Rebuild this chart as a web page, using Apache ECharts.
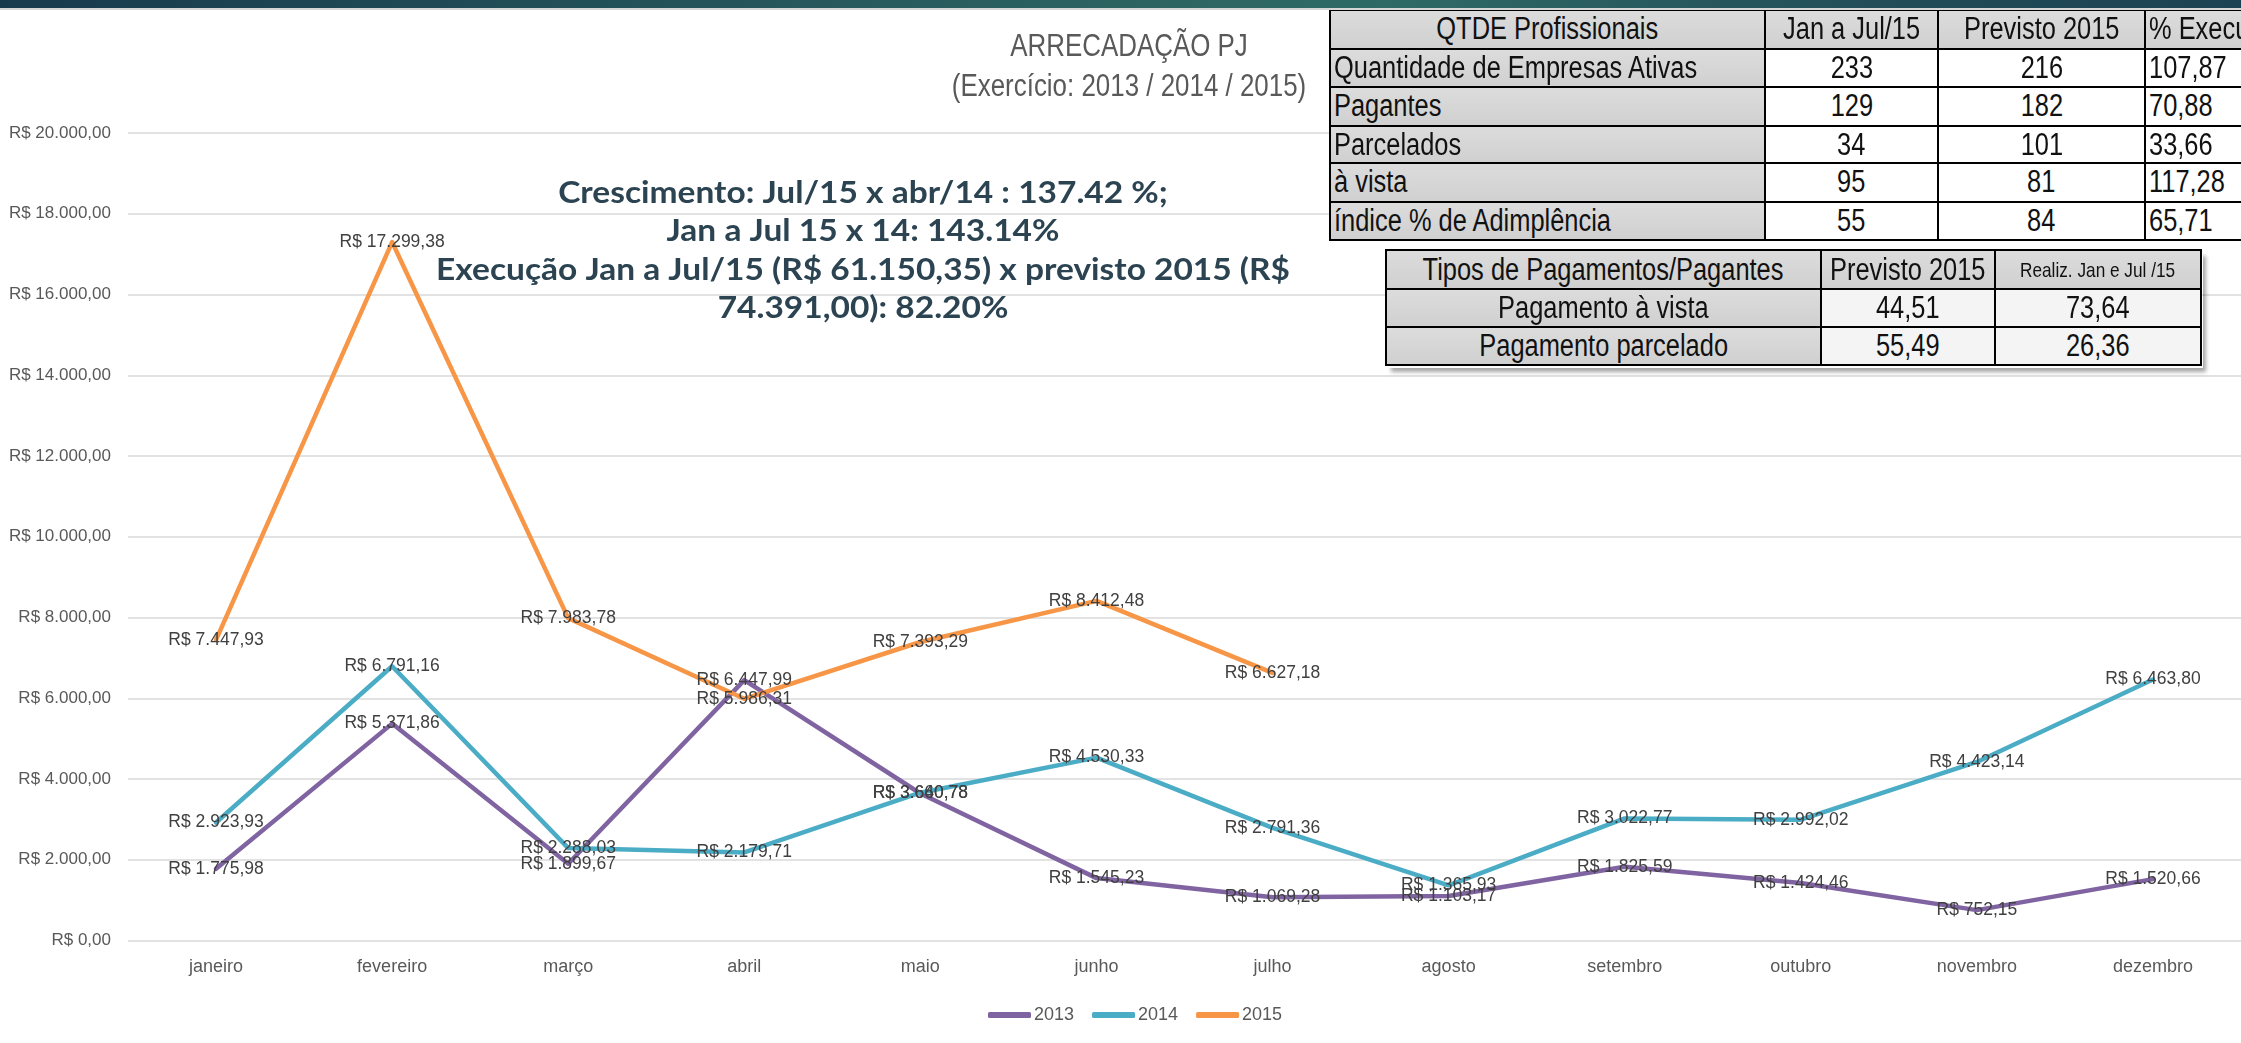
<!DOCTYPE html>
<html>
<head>
<meta charset="utf-8">
<script src="https://cdn.jsdelivr.net/npm/echarts@6/dist/echarts.min.js"></script>
<style>
  html, body { margin:0; padding:0; background:#fff; }
  #wrap { position:relative; width:2241px; height:1043px; overflow:hidden; background:#fff; }
  #chart { position:absolute; left:0; top:0; width:2241px; height:1043px; }
  .cell { position:absolute; box-sizing:border-box; border:2px solid #000; display:flex; align-items:center;
          justify-content:center; font-family:"Liberation Sans",Arial,sans-serif;
          color:#111; white-space:nowrap; overflow:hidden; z-index:5; }
  .cell span { display:inline-block; transform:scaleX(0.82); transform-origin:center center; }
  .cell.left { justify-content:flex-start; padding-left:3px; }
  .cell.left span { transform-origin:left center; }
  .gray { background:linear-gradient(#dcdcdc,#d0d0d0); }
  .white { background:#fff; }
  .light { background:#f4f4f4; }
</style>
</head>
<body>
<div id="wrap">
  <div id="chart"></div>
  <div style="position:absolute;left:0;top:0;width:2241px;height:8px;z-index:6;background:linear-gradient(90deg,#173a4d 0%,#24535a 30%,#2e6763 55%,#2f6a66 62%,#224c58 85%,#1b4252 100%);"></div>
  <div style="position:absolute;left:0;top:8px;width:2241px;height:2px;z-index:6;background:#d6d6d6;"></div>
</div>
<script>
// ---------- data ----------
const months = ['janeiro','fevereiro','março','abril','maio','junho','julho','agosto','setembro','outubro','novembro','dezembro'];
const v2013 = [1775.98, 5371.86, 1899.67, 6447.99, 3640.78, 1545.23, 1069.28, 1103.17, 1825.59, 1424.46, 752.15, 1520.66];
const v2014 = [2923.93, 6791.16, 2288.03, 2179.71, 3660.78, 4530.33, 2791.36, 1365.93, 3022.77, 2992.02, 4423.14, 6463.80];
const v2015 = [7447.93, 17299.38, 7983.78, 5986.31, 7393.29, 8412.48, 6627.18];
const seriesNames = ['2013','2014','2015'];

const titleLines = ['ARRECADAÇÃO PJ', '(Exercício: 2013 / 2014 / 2015)'];
const noteLines = [
  'Crescimento: Jul/15 x abr/14 : 137.42 %;',
  'Jan a Jul 15 x 14: 143.14%',
  'Execução Jan a Jul/15 (R$ 61.150,35) x previsto 2015 (R$',
  '74.391,00): 82.20%'
];

const t1Header = ['QTDE Profissionais', 'Jan a Jul/15', 'Previsto 2015', '% Execução'];
const t1Labels = ['Quantidade de Empresas Ativas', 'Pagantes', 'Parcelados', 'à vista', 'índice % de Adimplência'];
const t1JanJul = ['233', '129', '34', '95', '55'];
const t1Previsto = ['216', '182', '101', '81', '84'];
const t1Exec = ['107,87', '70,88', '33,66', '117,28', '65,71'];

const t2Header = ['Tipos de Pagamentos/Pagantes', 'Previsto 2015', 'Realiz. Jan e Jul /15'];
const t2Labels = ['Pagamento à vista', 'Pagamento parcelado'];
const t2Previsto = ['44,51', '55,49'];
const t2Realiz = ['73,64', '26,36'];

// ---------- helpers ----------
function brl(v) {
  let [i, d] = Math.abs(v).toFixed(2).split('.');
  i = i.replace(/\B(?=(\d{3})+(?!\d))/g, '.');
  return 'R$ ' + i + ',' + d;
}
const SANS = '"Liberation Sans",Arial,sans-serif';
const colors = ['#8064A2', '#4BACC6', '#F79646'];

// ---------- chart ----------
const chart = echarts.init(document.getElementById('chart'), null, { renderer: 'canvas' });
function mkSeries(name, data, color) {
  return {
    name, type: 'line', data, color,
    symbol: 'circle', symbolSize: 1, showSymbol: true,
    lineStyle: { width: 4.5, color, cap: 'round', join: 'round' },
    itemStyle: { color },
    label: { show: true, position: 'inside', formatter: p => brl(p.value),
             color: '#404040', fontSize: 17.5, fontFamily: SANS },
    emphasis: { disabled: true },
    animation: false
  };
}
const graphics = [];
titleLines.forEach((t, k) => graphics.push({
  type: 'text', x: 1129, y: [47, 87][k], z: 10, scaleX: 0.836,
  style: { text: t, align: 'center', verticalAlign: 'middle', fontSize: 31, fontFamily: SANS, fill: '#595959' }
}));
noteLines.forEach((t, k) => graphics.push({
  type: 'text', x: 863, y: [193, 231, 270, 308][k], z: 10, scaleX: 1.08,
  style: { text: t, align: 'center', verticalAlign: 'middle', fontSize: 31, fontWeight: 'bold', fontFamily: 'Lato', fill: '#2C4452' }
}));

chart.setOption({
  animation: false,
  grid: { left: 128, right: 0, top: 133, bottom: 102.5, containLabel: false, outerBoundsMode: 'none' },
  xAxis: {
    type: 'category', data: months, boundaryGap: true,
    axisLine: { show: false }, axisTick: { show: false },
    axisLabel: { color: '#595959', fontSize: 18, fontFamily: SANS, margin: 18, interval: 0 }
  },
  yAxis: {
    type: 'value', min: 0, max: 20000, interval: 2000,
    axisLine: { show: false }, axisTick: { show: false },
    axisLabel: { color: '#595959', fontSize: 17, fontFamily: SANS, margin: 17, formatter: v => brl(v) },
    splitLine: { lineStyle: { color: '#d9d9d9', width: 1.5 } }
  },
  legend: {
    data: seriesNames, left: 988, top: 1006, icon: 'roundRect', itemWidth: 43, itemHeight: 6, itemGap: 18,
    padding: 0, textStyle: { color: '#595959', fontSize: 18, fontFamily: SANS, padding: [0, 0, 0, -2] }
  },
  graphic: graphics,
  series: [
    mkSeries(seriesNames[0], v2013, colors[0]),
    mkSeries(seriesNames[1], v2014, colors[1]),
    mkSeries(seriesNames[2], v2015, colors[2])
  ]
});

// ---------- tables ----------
const wrap = document.getElementById('wrap');
function cell(x0, y0, x1, y1, text, cls, fs) {
  const d = document.createElement('div');
  d.className = 'cell ' + cls;
  d.style.left = (x0 - 1) + 'px'; d.style.top = (y0 - 1) + 'px';
  d.style.width = (x1 - x0 + 2) + 'px'; d.style.height = (y1 - y0 + 2) + 'px';
  d.style.fontSize = fs + 'px';
  const s = document.createElement('span');
  s.textContent = text;
  d.appendChild(s);
  wrap.appendChild(d);
}
const t1x = [1330, 1765, 1938, 2145, 2400];
const t1y = [10, 48.6, 87.2, 125.8, 163.4, 201.6, 240];
t1Header.forEach((h, c) => cell(t1x[c], t1y[0], t1x[c+1], t1y[1], h, c === 3 ? 'gray left' : 'gray', 31));
t1Labels.forEach((lab, r) => {
  cell(t1x[0], t1y[r+1], t1x[1], t1y[r+2], lab, 'gray left', 31);
  cell(t1x[1], t1y[r+1], t1x[2], t1y[r+2], t1JanJul[r], 'white', 31);
  cell(t1x[2], t1y[r+1], t1x[3], t1y[r+2], t1Previsto[r], 'white', 31);
  cell(t1x[3], t1y[r+1], t1x[4], t1y[r+2], t1Exec[r], 'white left', 31);
});
const t2x = [1386, 1821, 1995, 2201];
const t2y = [250, 289, 326.5, 365];
const sh = document.createElement('div');
sh.style.cssText = 'position:absolute;left:1388px;top:252px;width:815px;height:116px;box-shadow:3px 4px 4px rgba(0,0,0,0.35);z-index:4;';
wrap.appendChild(sh);
t2Header.forEach((h, c) => cell(t2x[c], t2y[0], t2x[c+1], t2y[1], h, 'gray', c === 2 ? 21 : 31));
t2Labels.forEach((lab, r) => {
  cell(t2x[0], t2y[r+1], t2x[1], t2y[r+2], lab, 'gray', 31);
  cell(t2x[1], t2y[r+1], t2x[2], t2y[r+2], t2Previsto[r], 'light', 31);
  cell(t2x[2], t2y[r+1], t2x[3], t2y[r+2], t2Realiz[r], 'light', 31);
});
</script>
</body>
</html>
